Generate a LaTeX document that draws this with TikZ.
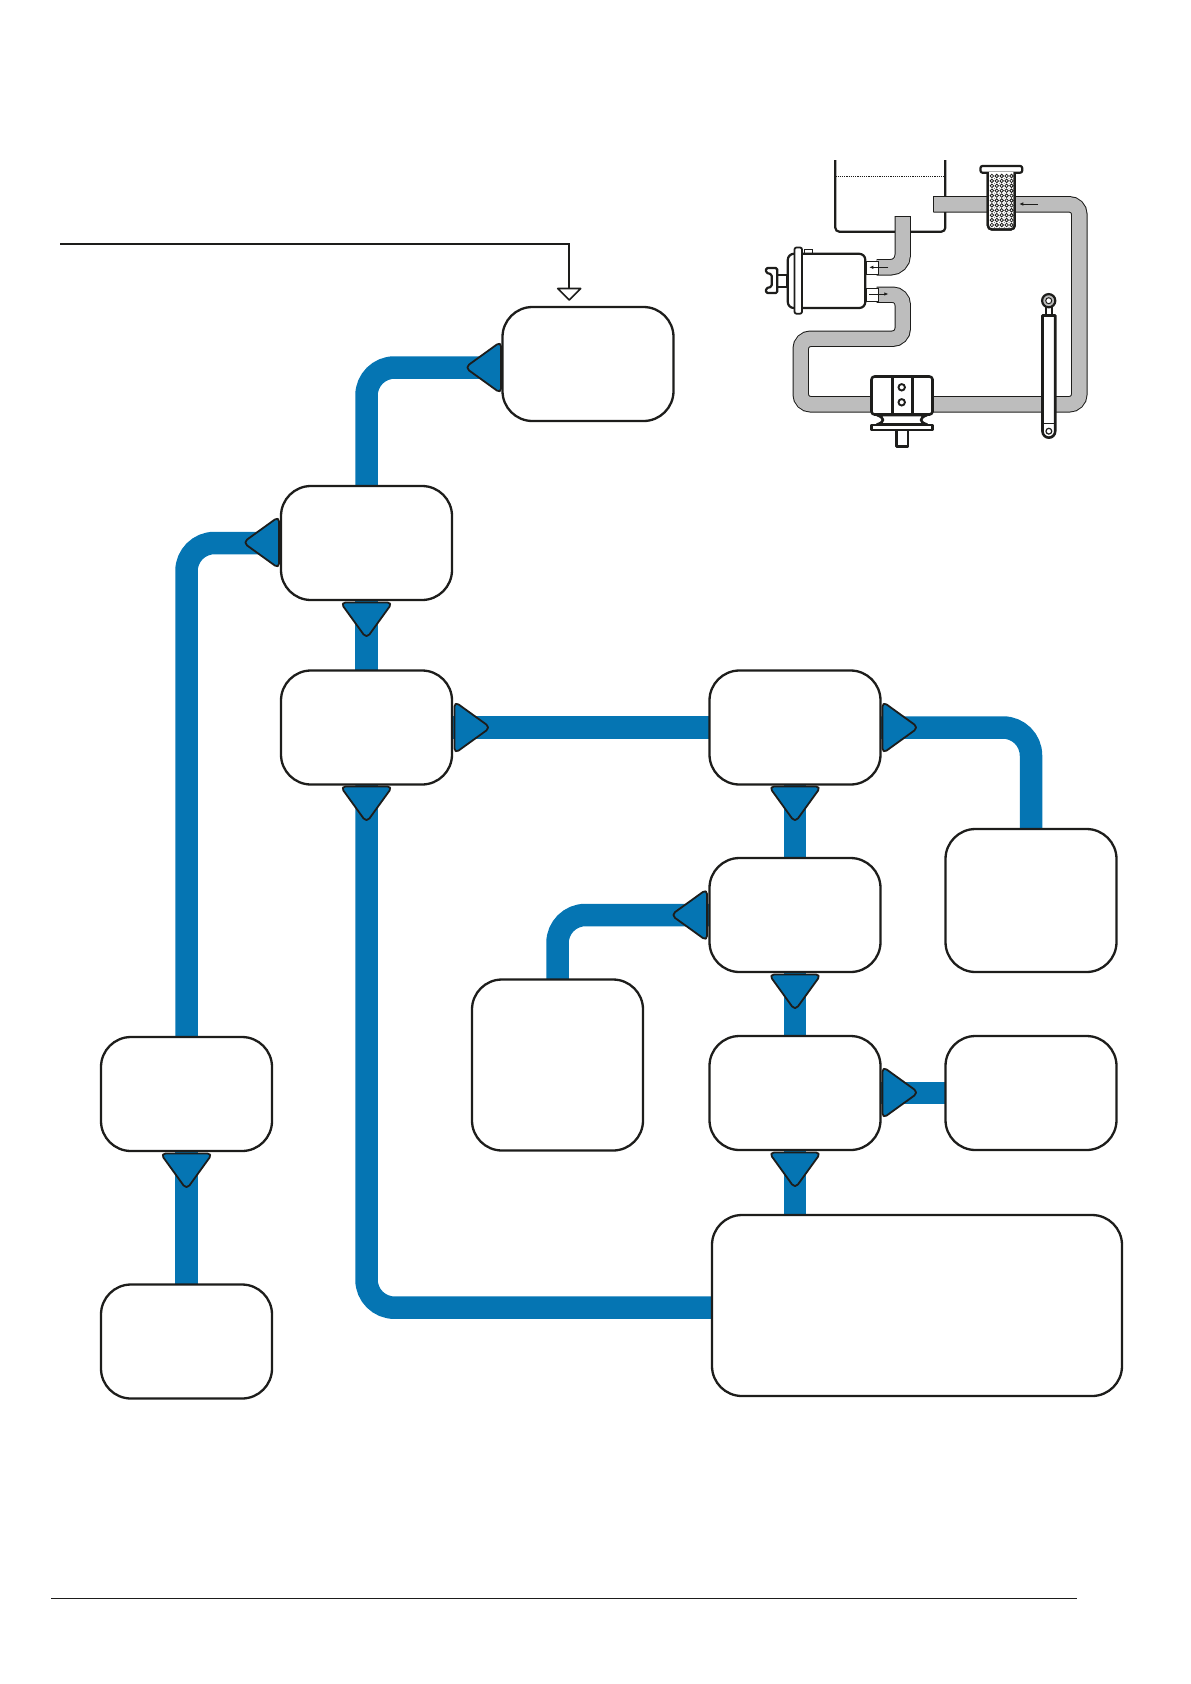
\documentclass[tikz,border=0pt]{standalone}
\usetikzlibrary{arrows.meta}
\definecolor{pipeblue}{HTML}{0575B3}
\definecolor{pipegray}{HTML}{BDBDBD}
\definecolor{inkk}{HTML}{1D1D1B}
\pgfdeclarelayer{pipes}
\pgfsetlayers{pipes,main}
\tikzset{
  x=1pt,y=-1pt,
  box/.style={draw=inkk,line width=2.3pt,fill=white,rounded corners=30pt,inner sep=0pt,outer sep=0pt},
  pipe/.style={draw=pipeblue,line width=22.5pt,rounded corners=28pt},
  tri/.style={draw=inkk,fill=pipeblue,line width=1.8pt,rounded corners=5pt,line join=round},
  rule line/.style={draw=inkk,line width=1.6pt},
  hosepipe/.style={draw=inkk,line width=1pt,double=pipegray,double distance=14.4pt},
  ink/.style={draw=inkk,line width=2.2pt,fill=white,line join=round},
  small arrow/.style={draw=inkk,line width=0.7pt,-{Latex[length=4pt,width=3.6pt]}},
}
\newcommand{\flowtri}[3]{\draw[tri,shift={(#1,#2)},rotate=#3] (-26,0) -- (26,0) -- (0,36) -- cycle;}
\newcommand{\flowbox}[5]{\node[box,minimum width=#4pt,minimum height=#5pt] (#1) at (#2,#3) {};}
\begin{document}
\begin{tikzpicture}
\useasboundingbox (0,0) rectangle (1191,1684);
% boxes
\flowbox{A}{588}{364}{171}{114}
\flowbox{B}{366.5}{543}{171}{114}
\flowbox{C}{366.5}{727.5}{171}{114}
\flowbox{D}{795}{727.5}{171}{114}
\flowbox{E}{1031}{900.5}{171}{143}
\flowbox{F}{795}{915}{171}{114}
\flowbox{G}{557.5}{1065}{171}{171}
\flowbox{H}{795}{1093}{171}{114}
\flowbox{I}{1031}{1093}{171}{114}
\flowbox{J}{917}{1305.5}{410}{181}
\flowbox{K}{186.5}{1094}{171}{114}
\flowbox{L}{186.5}{1341.5}{171}{114}
\coordinate (Ain) at (503,367.5);
\coordinate (Jin) at (712,1307.7);
% connectors
\begin{pgfonlayer}{pipes}
\draw[pipe] (B.north) |- (Ain);
\draw[pipe] (K.north) |- (B.west);
\draw[pipe] (B.south) -- (C.north);
\draw[pipe] (C.south) |- (Jin);
\draw[pipe] (C.east) -- (D.west);
\draw[pipe] (D.east) -| (E.north);
\draw[pipe] (D.south) -- (F.north);
\draw[pipe] (F.west) -| (G.north);
\draw[pipe] (F.south) -- (H.north);
\draw[pipe] (H.east) -- (I.west);
\draw[pipe] (H.south) -- (H.south |- J.north);
\draw[pipe] (K.south) -- (L.north);
\end{pgfonlayer}
% flow triangles
\flowtri{501}{367.5}{-90}
\flowtri{279}{542.5}{-90}
\flowtri{366.5}{602.5}{0}
\flowtri{454.5}{727.5}{90}
\flowtri{366.5}{786.5}{0}
\flowtri{882.5}{727.5}{90}
\flowtri{795}{786.5}{0}
\flowtri{707}{915}{-90}
\flowtri{795}{974.5}{0}
\flowtri{882.5}{1092.5}{90}
\flowtri{795}{1152.5}{0}
\flowtri{186.5}{1153.5}{0}
% feed line
\coordinate (feedstart) at (60,244);
\coordinate (feedbend) at (569,244);
\coordinate (feedend) at (569,288.5);
\draw[rule line] (feedstart) -- (feedbend) -- (feedend);
\draw[rule line,fill=white,line join=round] (557.7,288.5) -- (580.7,288.5) -- (569.2,300) -- cycle;
% bottom rule
\coordinate (rulea) at (51,1598.3);
\coordinate (ruleb) at (1077,1598.3);
\draw[rule line] (rulea) -- (ruleb);
%% ===== illustration =====
% tank
\draw[draw=inkk,line width=2.2pt,rounded corners=4pt] (835.3,160) -- (835.3,231.7) -- (945.3,231.7) -- (945.3,160);
\draw[draw=inkk,line width=1.3pt,dash pattern=on 1.2pt off 1pt] (835.3,176.7) -- (945.3,176.7);
% hoses
\draw[hosepipe,rounded corners=10pt] (933.3,204.3) -- (1079.3,204.3) -- (1079.3,404.3) -- (800.7,404.3) -- (800.7,338.7) -- (902.7,338.7) -- (902.7,294.7) -- (876.7,294.7);
\draw[hosepipe,rounded corners=12pt] (902.7,216) -- (902.7,267.3) -- (876.7,267.3);
\draw[draw=inkk,line width=1pt] (933.3,196.4) -- (933.3,212.2);
\draw[draw=inkk,line width=1pt] (894.9,216) -- (910.5,216);
\draw[small arrow] (1038,204) -- (1019.3,204);
% strainer
\draw[ink,fill=white,rounded corners=2pt] (980.5,166) rectangle (1022.2,172.7);
\draw[ink,rounded corners=4pt] (987.8,172) -- (987.8,229.5) -- (1014.8,229.5) -- (1014.8,172);
\begin{scope}
\clip (988,173) rectangle (1014.3,229);
\foreach \yy in {0,...,10}{
  \foreach \xx in {0,...,4}{
    \draw[draw=inkk,line width=0.8pt] ({991.9+\xx*4.9},{176+\yy*4.9}) circle (1.75pt);
    \fill[inkk] ({994.35+\xx*4.9},{178.45+\yy*4.9}) circle (0.4pt);
  }
}
\end{scope}
\draw[draw=inkk,line width=2.2pt,rounded corners=4pt] (987.8,172) -- (987.8,229.5) -- (1014.8,229.5) -- (1014.8,172);
% pump
\draw[ink,line width=1.8pt] (777.3,275) rectangle (787.3,286.7);
\draw[ink,line width=2.2pt,rounded corners=1.5pt] (766,268) -- (777.3,268) -- (777.3,293) -- (766,293) -- (766,288.3) -- (771.7,286.7) -- (771.7,274.3) -- (766,272.7) -- cycle;
\draw[draw=inkk,line width=1pt,fill=white] (804.3,249.5) rectangle (812.3,254);
\draw[ink,rounded corners=6pt] (787.8,253.8) rectangle (865.3,308);
\draw[ink,line width=1.8pt,rounded corners=2pt] (794.5,247.5) rectangle (802,313.7);
\draw[draw=inkk,line width=1pt,fill=white] (866.7,261) rectangle (878.3,274.3);
\draw[draw=inkk,line width=1pt,fill=white] (866.4,288.3) rectangle (878.3,301.7);
\draw[small arrow] (888.3,267.3) -- (869.3,267.3);
\draw[small arrow] (869.3,294) -- (888.3,294);
% motor
\draw[ink,line width=2.2pt] (896.5,430) rectangle (908.2,446.5);
\draw[draw=inkk,line width=2.6pt,fill=white,line join=round] (877,415) .. controls (885,418) and (885,422) .. (877,424.5) -- (927,424.5) .. controls (919,422) and (919,418) .. (927,415) -- cycle;
\draw[ink,line width=2.4pt] (871.5,424.7) rectangle (932.5,430.2);
\draw[ink,line width=2.6pt,rounded corners=3pt] (871.5,414.5) -- (871.5,376.5) -- (932.5,376.5) -- (932.5,414.5) -- cycle;
\draw[draw=inkk,line width=2.4pt] (892.3,376.5) -- (892.3,414.5);
\draw[draw=inkk,line width=2.4pt] (912.3,376.5) -- (912.3,414.5);
\draw[draw=inkk,line width=1.9pt,fill=white] (901.7,387.3) circle (3.2pt);
\draw[draw=inkk,line width=1.9pt,fill=white] (901.7,402.3) circle (3.2pt);
% cylinder
\draw[ink,line width=1.5pt] (1046,306) rectangle (1052,316);
\draw[draw=inkk,line width=2.2pt,fill=pipegray] (1048.7,300.7) circle (6.6pt);
\draw[draw=inkk,line width=1pt,fill=white] (1048.7,300.7) circle (3pt);
\draw[ink,line width=2.6pt] (1042.5,315.5) -- (1055.2,315.5) -- (1055.2,431.3) arc[start angle=0,end angle=-180,radius=6.35pt] -- cycle;
\draw[draw=inkk,line width=1.4pt] (1042.5,423.3) -- (1055.2,423.3);
\draw[draw=inkk,line width=1.2pt,fill=white] (1048.85,431.2) circle (2.9pt);
\end{tikzpicture}
\end{document}
